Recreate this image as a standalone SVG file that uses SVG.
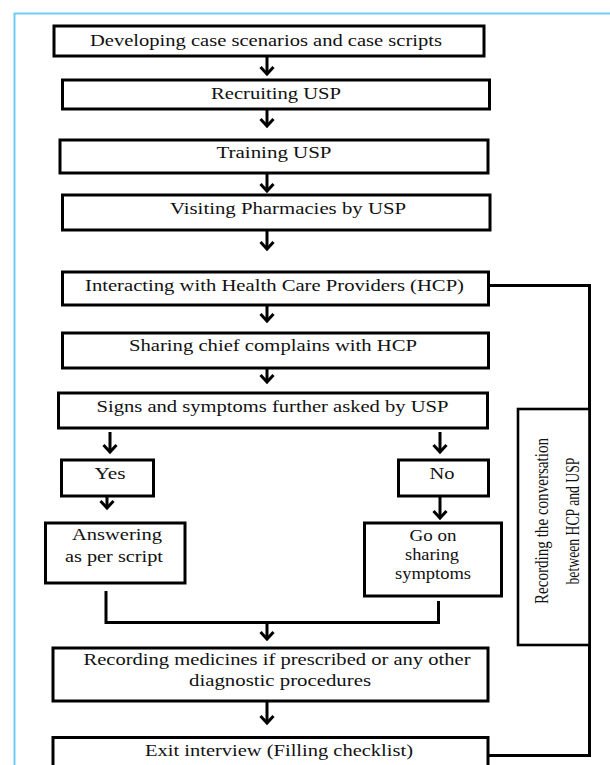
<svg xmlns="http://www.w3.org/2000/svg" width="610" height="765" viewBox="0 0 610 765">
<style>
.box{fill:#fff;stroke:#000;stroke-width:3}
.rb{fill:#fff;stroke:#000;stroke-width:2.6}
.t{font-family:"Liberation Serif","Times New Roman",serif;font-size:16px;fill:#111;text-anchor:middle}
.c{fill:none;stroke:#000;stroke-width:3}
.a{fill:none;stroke:#000;stroke-width:3;marker-end:url(#ah)}
</style>
<defs>
<marker id="ah" markerUnits="userSpaceOnUse" markerWidth="16" markerHeight="18" refX="10" refY="8" orient="auto" overflow="visible">
<path d="M3,1.5 L10,8 L3,14.5" fill="none" stroke="#000" stroke-width="3"/>
</marker>
</defs>
<rect x="0" y="0" width="610" height="765" fill="#fff"/>
<path d="M14.5 765 V13.5 H610" fill="none" stroke="#6ccdf3" stroke-width="2"/>

<g id="connectors">
<line class="a" x1="267" y1="57" x2="267" y2="74"/>
<line class="a" x1="267" y1="110" x2="267" y2="126"/>
<line class="a" x1="267" y1="173" x2="267" y2="191"/>
<line class="a" x1="267" y1="230" x2="267" y2="249"/>
<line class="a" x1="267" y1="305" x2="267" y2="321"/>
<line class="a" x1="267" y1="362" x2="267" y2="382"/>
<line class="a" x1="110" y1="432" x2="110" y2="452"/>
<line class="a" x1="440" y1="432" x2="440" y2="452"/>
<line class="a" x1="107" y1="490" x2="107" y2="508"/>
<line class="a" x1="440" y1="497" x2="440" y2="518"/>
<path class="c" d="M106 591 V622.5 H438.5 V601"/>
<line class="a" x1="267" y1="622" x2="267" y2="639"/>
<line class="a" x1="267" y1="701" x2="267" y2="723"/>
<path class="c" d="M488 285.5 H589.5 V755.5 H489"/>
</g>

<g id="n1"><rect class="box" x="54" y="26" width="430" height="30"/><text class="t" x="266" y="46" textLength="352" lengthAdjust="spacingAndGlyphs">Developing case scenarios and case scripts</text></g>
<g id="n2"><rect class="box" x="62.5" y="80" width="427" height="29"/><text class="t" x="276" y="99" textLength="130" lengthAdjust="spacingAndGlyphs">Recruiting USP</text></g>
<g id="n3"><rect class="box" x="60" y="140" width="428" height="33"/><text class="t" x="274" y="158" textLength="115" lengthAdjust="spacingAndGlyphs">Training USP</text></g>
<g id="n4"><rect class="box" x="62.5" y="195" width="427.5" height="35"/><text class="t" x="288" y="214" textLength="236" lengthAdjust="spacingAndGlyphs">Visiting Pharmacies by USP</text></g>
<g id="n5"><rect class="box" x="62.5" y="272" width="426" height="33"/><text class="t" x="274.5" y="291" textLength="379" lengthAdjust="spacingAndGlyphs">Interacting with Health Care Providers (HCP)</text></g>
<g id="n6"><rect class="box" x="62.5" y="333" width="426" height="35"/><text class="t" x="273" y="351" textLength="288" lengthAdjust="spacingAndGlyphs">Sharing chief complains with HCP</text></g>
<g id="n7"><rect class="box" x="58.5" y="393" width="429" height="35"/><text class="t" x="272.5" y="412" textLength="352" lengthAdjust="spacingAndGlyphs">Signs and symptoms further asked by USP</text></g>
<g id="n8"><rect class="box" x="61.5" y="460" width="92" height="36"/><text class="t" x="110" y="479" textLength="31" lengthAdjust="spacingAndGlyphs">Yes</text></g>
<g id="n9"><rect class="box" x="398.5" y="460" width="90" height="36"/><text class="t" x="442" y="479" textLength="25" lengthAdjust="spacingAndGlyphs">No</text></g>
<g id="n10"><rect class="box" x="45.5" y="523" width="139.5" height="60"/><text class="t" x="117" y="540" textLength="90" lengthAdjust="spacingAndGlyphs">Answering</text><text class="t" x="114" y="562" textLength="98" lengthAdjust="spacingAndGlyphs">as per script</text></g>
<g id="n11"><rect class="box" x="364.5" y="523" width="137" height="73"/><text class="t" x="433" y="541" textLength="47" lengthAdjust="spacingAndGlyphs">Go  on</text><text class="t" x="432" y="560" textLength="54" lengthAdjust="spacingAndGlyphs">sharing</text><text class="t" x="433" y="579" textLength="76" lengthAdjust="spacingAndGlyphs">symptoms</text></g>
<g id="n12"><rect class="rb" x="518" y="409" width="71.5" height="236"/>
<g transform="translate(548,521) rotate(-90) scale(1,1.25)"><text class="t" x="0" y="0" style="font-size:15px" textLength="166" lengthAdjust="spacingAndGlyphs">Recording the conversation</text></g>
<g transform="translate(579,521) rotate(-90) scale(1,1.25)"><text class="t" x="0" y="0" style="font-size:15px" textLength="127" lengthAdjust="spacingAndGlyphs">between HCP and USP</text></g></g>
<g id="n13"><rect class="box" x="53" y="648" width="435" height="53"/><text class="t" x="277" y="665" textLength="387" lengthAdjust="spacingAndGlyphs">Recording medicines if prescribed or any other</text><text class="t" x="280" y="686" textLength="182" lengthAdjust="spacingAndGlyphs">diagnostic procedures</text></g>
<g id="n14"><rect class="box" x="53" y="737.5" width="435" height="40"/><text class="t" x="279" y="756" textLength="268" lengthAdjust="spacingAndGlyphs">Exit interview (Filling checklist)</text></g>
</svg>
